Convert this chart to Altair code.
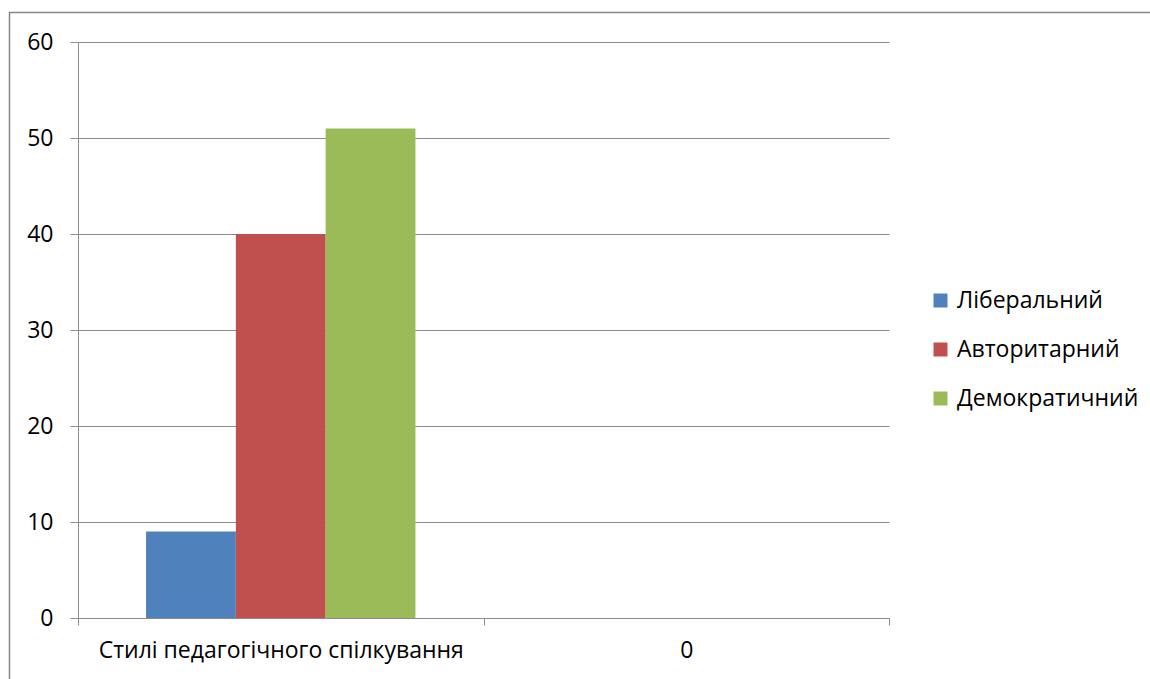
import altair as alt
import pandas as pd

# Chart values
categories = ["Стилі педагогічного спілкування", "0"]
series = ["Ліберальний", "Авторитарний", "Демократичний"]
values = [9, 40, 51]
colors = ["#4F81BD", "#C0504D", "#9BBB59"]

df = pd.DataFrame({
    "category": [categories[0]] * len(series),
    "series": series,
    "value": values,
})

FONT = "Open Sans"
GRID = "#8c8c8c"
FS = 23

W, H = 811, 576
PAD_L, PAD_T = 78, 42

bars = alt.Chart(df).mark_bar(opacity=1).encode(
    x=alt.X(
        "category:N",
        sort=categories,
        scale=alt.Scale(domain=categories, paddingInner=0, paddingOuter=0),
        axis=alt.Axis(
            title=None,
            labelAngle=0,
            tickBand="extent",
            ticks=True,
            tickSize=7,
            tickColor=GRID,
            domainColor=GRID,
            labelFontSize=FS,
            labelPadding=14,
            labelLimit=0,
            labelColor="#000000",
            labelFont=FONT,
            grid=False,
        ),
    ),
    xOffset=alt.XOffset(
        "series:N",
        sort=series,
        scale=alt.Scale(domain=series, paddingInner=0, paddingOuter=0.758),
    ),
    y=alt.Y(
        "value:Q",
        scale=alt.Scale(domain=[0, 60], nice=False),
        axis=alt.Axis(
            title=None,
            values=[0, 10, 20, 30, 40, 50, 60],
            grid=True,
            gridColor=GRID,
            tickColor=GRID,
            tickSize=8,
            domainColor=GRID,
            labelFontSize=FS,
            labelPadding=17,
            labelColor="#000000",
            labelFont=FONT,
        ),
    ),
    color=alt.Color(
        "series:N",
        sort=series,
        scale=alt.Scale(domain=series, range=colors),
        legend=alt.Legend(
            title=None,
            orient="none",
            legendX=851,
            legendY=247,
            symbolType="square",
            symbolSize=196,
            symbolStrokeWidth=0,
            labelFontSize=FS,
            labelFont=FONT,
            labelColor="#000000",
            labelOffset=5,
            labelLimit=0,
            rowPadding=25,
            padding=0,
        ),
    ),
)

# Outer chart frame
frame = alt.Chart(pd.DataFrame({"k": [0]})).mark_rect(
    fill=None, stroke="#868686", strokeWidth=1.5
).encode(
    x=alt.value(9.5 - PAD_L),
    x2=alt.value(1150 - PAD_L + 20),
    y=alt.value(12.5 - PAD_T),
    y2=alt.value(679 - PAD_T + 20),
)

chart = alt.layer(bars, frame).properties(
    width=W,
    height=H,
    autosize=alt.AutoSizeParams(type="none"),
    padding={"left": PAD_L, "top": PAD_T, "right": 1150 - PAD_L - W, "bottom": 679 - PAD_T - H},
    background="#ffffff",
).configure_view(stroke=None).configure_axis(
    gridWidth=1, tickWidth=1, domainWidth=1
)

chart.save("out.html", embed_options={"renderer": "svg", "actions": False})
